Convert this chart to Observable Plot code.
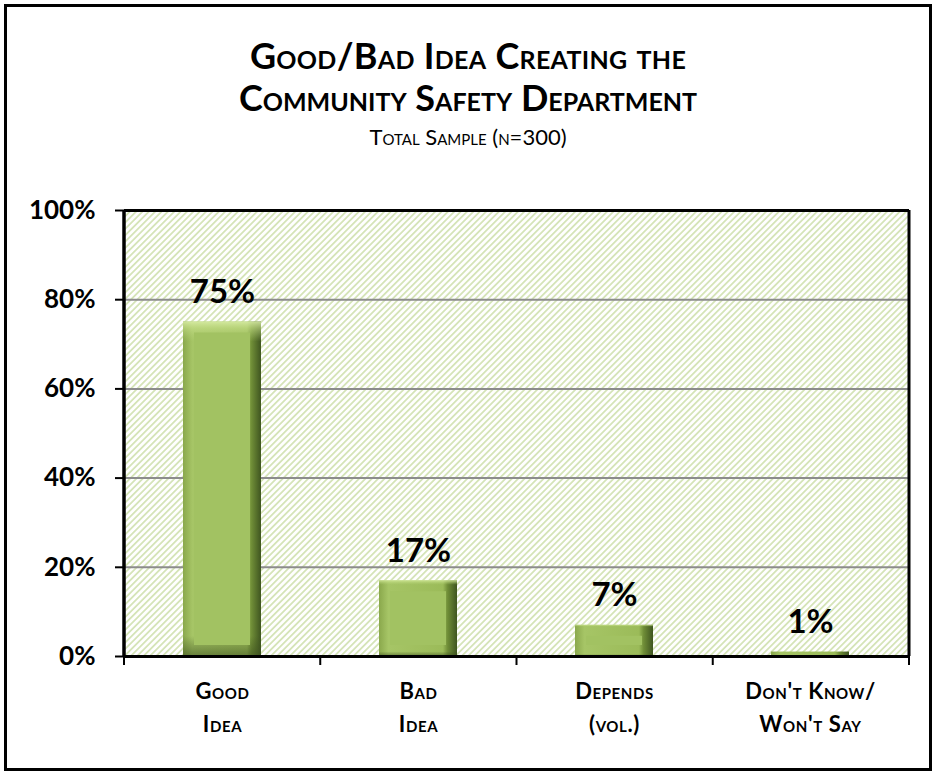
<!DOCTYPE html>
<html>
<head>
<meta charset="utf-8">
<script src="https://cdn.jsdelivr.net/npm/d3@7"></script>
<script src="https://cdn.jsdelivr.net/npm/@observablehq/plot@0.6"></script>
<style>
  html, body { margin: 0; padding: 0; background: #fff; }
  #page { position: relative; width: 936px; height: 773px; overflow: hidden; font-family: Lato, "Open Sans", sans-serif; }
  #border { position: absolute; left: 4px; top: 4px; width: 922px; height: 761px; border: 3px solid #000; }
  .title { position: absolute; left: 0; width: 936px; text-align: center; font-weight: bold; font-variant: small-caps; color: #000; }
  #t1 { top: 33px; font-size: 36px; letter-spacing: 0.3px; }
  #t2 { top: 75px; font-size: 36px; }
  #sub { top: 123px; font-size: 22px; font-weight: normal; }
  #chart { position: absolute; left: 0; top: 180px; }
  #chart g[aria-label="x-axis tick label"] text { font-variant: small-caps; letter-spacing: 0.6px; }
</style>
</head>
<body>
<div id="page">
  <div id="border"></div>
  <div class="title" id="t1">Good/Bad Idea Creating the</div>
  <div class="title" id="t2">Community Safety Department</div>
  <div class="title" id="sub">Total Sample (n=300)</div>
  <div id="chart"></div>
</div>
<script>
const categories = ["Good\nIdea", "Bad\nIdea", "Depends\n(vol.)", "Don't Know/\nWon't Say"];
const values = [75, 17, 7, 1];
const yTicks = [0, 20, 40, 60, 80, 100];
const gridTicks = [20, 40, 60, 80];

const data = categories.map((c, i) => ({category: c, value: values[i]}));

const W = 936, H = 593, MT = 30, MB = 117;
const chart = Plot.plot({
  width: W,
  height: H,
  marginTop: MT,
  marginBottom: MB,
  marginLeft: 124,
  marginRight: 27,
  style: {fontFamily: "Lato, 'Open Sans', sans-serif", background: "transparent", overflow: "visible"},
  x: {domain: categories, paddingInner: 0.6, paddingOuter: 0.3, label: null},
  y: {domain: [0, 100], label: null},
  marks: [
    Plot.frame({fill: "url(#hatch)", stroke: null}),
    Plot.ruleY(gridTicks, {stroke: "#8c8c8c", strokeWidth: 2}),
    Plot.barY(data, {x: "category", y: "value", fill: "url(#barH)"}),
    Plot.barY(data.filter(d => d.value > 4), {x: "category", y: "value", fill: "url(#barTop)"}),
    Plot.barY(data.filter(d => d.value > 4), {x: "category", y: "value", fill: "#a2c262", insetLeft: 11, insetRight: 11, insetTop: 11, insetBottom: 11}),
    Plot.text(data, {x: "category", y: "value", text: d => d.value + "%", lineAnchor: "bottom", dy: -19, fontSize: 33, fontWeight: "bold", fill: "#000"}),
    Plot.axisY({ticks: yTicks, tickFormat: d => d + "%", tickSize: 9, tickPadding: 20, fontSize: 26, fontWeight: "bold", stroke: "#000", strokeWidth: 2, color: "#000"}),
    Plot.axisX({tickSize: 0, tickPadding: 19, fontSize: 22, fontWeight: "bold", lineHeight: 1.5, color: "#000"}),
    Plot.ruleY([0, 100], {stroke: "#000", strokeWidth: 3})
  ]
});

const svg = d3.select(chart);
const defs = svg.insert("defs", ":first-child");
const pat = defs.append("pattern").attr("id", "hatch").attr("patternUnits", "userSpaceOnUse")
  .attr("width", 4.5).attr("height", 4.5).attr("patternTransform", "rotate(45)");
pat.append("rect").attr("width", 4.5).attr("height", 4.5).attr("fill", "#ffffff");
pat.append("rect").attr("x", 0).attr("width", 1.8).attr("height", 4.5).attr("fill", "#d5e4b8");

const gh = defs.append("linearGradient").attr("id", "barH").attr("x1", 0).attr("x2", 1).attr("y1", 0).attr("y2", 0);
[[0, "#8aa84c"], [0.12, "#a6c566"], [0.82, "#9bbb59"], [0.88, "#6f8d37"], [1, "#3f5520"]].forEach(([o, c]) =>
  gh.append("stop").attr("offset", o).attr("stop-color", c));

const gt = defs.append("linearGradient").attr("id", "barTop").attr("x1", 0).attr("x2", 0).attr("y1", 0).attr("y2", 1);
[[0, "rgba(220,240,170,0.85)"], [0.02, "rgba(200,225,140,0.6)"], [0.06, "rgba(180,210,120,0)"], [0.94, "rgba(60,80,30,0)"], [1, "rgba(60,80,30,0.6)"]].forEach(([o, c]) =>
  gt.append("stop").attr("offset", o).attr("stop-color", c));

// tick marks at band boundaries and side axis lines
const x = chart.scale("x");
const start = x.range[0], end = x.range[1];
const n = categories.length;
const bw = (end - start) / n;
const g = svg.append("g");
for (let i = 0; i <= n; i++) {
  const px = start + i * bw;
  g.append("line").attr("x1", px).attr("x2", px).attr("y1", H - MB).attr("y2", H - MB + 9)
    .attr("stroke", "#000").attr("stroke-width", 2);
}
g.append("line").attr("x1", start).attr("x2", start).attr("y1", MT).attr("y2", H - MB).attr("stroke", "#000").attr("stroke-width", 3.5);
g.append("line").attr("x1", end).attr("x2", end).attr("y1", MT).attr("y2", H - MB).attr("stroke", "#000").attr("stroke-width", 3);

document.getElementById("chart").appendChild(chart);
</script>
</body>
</html>
